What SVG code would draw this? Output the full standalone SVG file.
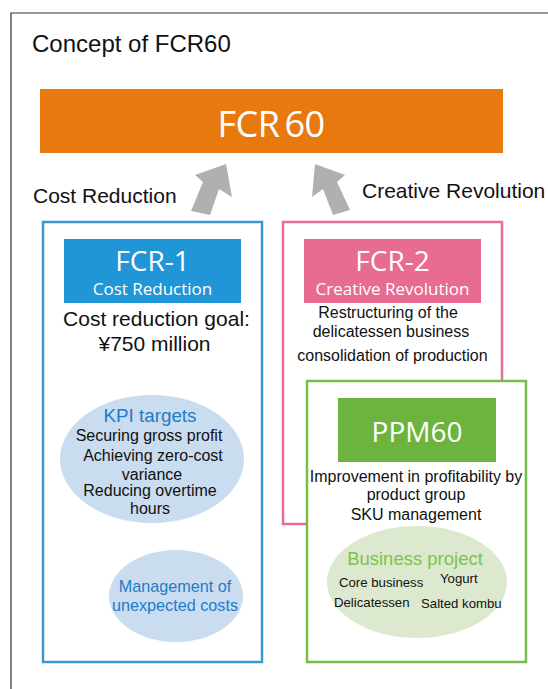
<svg xmlns="http://www.w3.org/2000/svg" width="548" height="689" viewBox="0 0 548 689">
  <defs>
    <style>
      .sans { font-family: "Liberation Sans", Arial, sans-serif; }
      .hum { font-family: "Open Sans", "Noto Sans", sans-serif; fill: #ffffff; }
      .body { font-family: "Liberation Sans", Arial, sans-serif; fill: #111111; font-size: 16px; text-anchor: middle; }
      .small { font-family: "Liberation Sans", Arial, sans-serif; fill: #111111; font-size: 13.2px; }
      .arrow { fill: #b0b0b0; }
    </style>
  </defs>

  <rect x="0" y="0" width="548" height="689" fill="#ffffff"/>

  <!-- outer frame -->
  <path d="M11,689 V13 H548" fill="none" stroke="#333333" stroke-width="1.2"/>

  <text class="sans" x="32" y="52" font-size="24" fill="#111111">Concept of FCR60</text>

  <!-- top goal -->
  <g id="fcr60">
    <rect x="40" y="89" width="463" height="64" fill="#e8790f"/>
    <text class="hum" x="271" y="137" font-size="36" text-anchor="middle" letter-spacing="-0.5">FCR<tspan dx="5">60</tspan></text>
  </g>

  <!-- connectors -->
  <g id="connectors">
    <polygon class="arrow" points="226,164 232,197 219,189 210,215 191,211 203,182 195,175"/>
    <polygon class="arrow" points="315,164 345,175 337,182 350,210 333,215 323,189 312,197"/>
    <text class="sans" x="33" y="203" font-size="21" fill="#111111">Cost Reduction</text>
    <text class="sans" x="362" y="198" font-size="21" fill="#111111">Creative Revolution</text>
  </g>

  <!-- FCR-1 -->
  <g id="fcr1">
    <rect x="43" y="222" width="219" height="440" fill="#ffffff" stroke="#3a97d2" stroke-width="2.5"/>
    <rect x="64" y="239" width="177" height="64" fill="#2196d6"/>
    <text class="hum" x="152.5" y="271" font-size="28" text-anchor="middle">FCR-1</text>
    <text class="hum" x="152.5" y="295" font-size="17" text-anchor="middle">Cost Reduction</text>
    <text class="sans" x="156.5" y="326" font-size="21" fill="#111111" text-anchor="middle">Cost reduction goal:</text>
    <text class="sans" x="154.5" y="351" font-size="21" fill="#111111" text-anchor="middle">¥750 million</text>
  </g>

  <g id="kpi">
    <ellipse cx="152" cy="459" rx="92" ry="64" fill="#c9dcf0"/>
    <text class="sans" x="150" y="422" font-size="18.8" fill="#1e7dc8" text-anchor="middle">KPI targets</text>
    <text class="body" x="149" y="441" font-size="16.2">Securing gross profit</text>
    <text class="body" x="153" y="461" font-size="16.2">Achieving zero-cost</text>
    <text class="body" x="152" y="480" font-size="16.2">variance</text>
    <text class="body" x="150" y="496" font-size="16.2">Reducing overtime</text>
    <text class="body" x="150" y="514" font-size="16.2">hours</text>
  </g>

  <g id="unexpected">
    <ellipse cx="176" cy="596" rx="67" ry="46" fill="#c9dcf0"/>
    <text class="sans" x="175" y="592" font-size="16.2" fill="#1e7dc8" text-anchor="middle">Management of</text>
    <text class="sans" x="175" y="611" font-size="16.2" fill="#1e7dc8" text-anchor="middle">unexpected costs</text>
  </g>

  <!-- FCR-2 -->
  <g id="fcr2">
    <rect x="283" y="222" width="219" height="302" fill="#ffffff" stroke="#e66f92" stroke-width="2.5"/>
    <rect x="304" y="239" width="177" height="64" fill="#e86b91"/>
    <text class="hum" x="392.5" y="271" font-size="28" text-anchor="middle">FCR-2</text>
    <text class="hum" x="392.5" y="295" font-size="17" text-anchor="middle">Creative Revolution</text>
    <text class="body" x="388" y="318">Restructuring of the</text>
    <text class="body" x="391" y="337">delicatessen business</text>
    <text class="body" x="392.5" y="361">consolidation of production</text>
  </g>

  <!-- PPM60 -->
  <g id="ppm60">
    <rect x="307" y="381" width="219" height="281" fill="#ffffff" stroke="#77bd4a" stroke-width="2.5"/>
    <rect x="338" y="398" width="158" height="64" fill="#6db43e"/>
    <text class="hum" x="417" y="442" font-size="28" text-anchor="middle">PPM60</text>
    <text class="body" x="416" y="482">Improvement in profitability by</text>
    <text class="body" x="416" y="500">product group</text>
    <text class="body" x="416" y="520">SKU management</text>
  </g>

  <g id="business">
    <ellipse cx="417" cy="582" rx="90" ry="56" fill="#dce9cf"/>
    <text class="sans" x="415" y="565" font-size="18.5" fill="#7cc24b" text-anchor="middle">Business project</text>
    <text class="small" x="339" y="587">Core business</text>
    <text class="small" x="440" y="583">Yogurt</text>
    <text class="small" x="334" y="607">Delicatessen</text>
    <text class="small" x="421" y="608">Salted kombu</text>
  </g>
</svg>
